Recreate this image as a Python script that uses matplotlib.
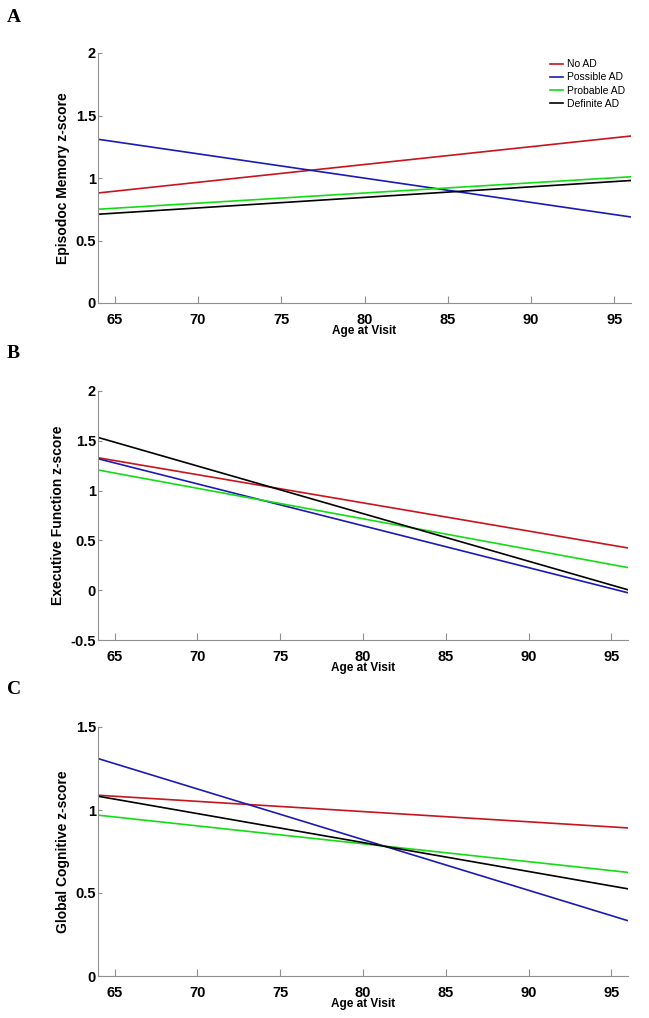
import matplotlib
matplotlib.use("Agg")
import matplotlib.pyplot as plt

# fitted lines, values at the two ends of the age range
ages = [64, 96]
groups = ["No AD", "Possible AD", "Probable AD", "Definite AD"]
colors = ["#c8141e", "#1a1ab4", "#14dc14", "#000000"]

episodic = [[0.88, 1.336], [1.31, 0.688], [0.75, 1.01], [0.71, 0.98]]
executive = [[1.33, 0.424], [1.32, -0.026], [1.207, 0.227], [1.534, 0.004]]
global_cog = [[1.089, 0.892], [1.31, 0.333], [0.969, 0.624], [1.083, 0.525]]

panel_letters = ["A", "B", "C"]
ylabels = ["Episodoc Memory z-score", "Executive Function z-score", "Global Cognitive z-score"]
ylims = [(0, 2), (-0.5, 2), (0, 1.5)]
yticks = [[0, 0.5, 1, 1.5, 2], [-0.5, 0, 0.5, 1, 1.5, 2], [0, 0.5, 1, 1.5]]
ytick_labels = [["0", "0.5", "1", "1.5", "2"], ["-0.5", "0", "0.5", "1", "1.5", "2"], ["0", "0.5", "1", "1.5"]]
xticks = [65, 70, 75, 80, 85, 90, 95]

plt.rcParams["font.family"] = ["Liberation Sans", "DejaVu Sans"]

fig = plt.figure(figsize=(6.49, 10.18), dpi=100)
W, H = 649, 1018
# axes boxes in pixels: left, top, right, bottom
boxes = [(98, 53, 631, 303), (98, 391, 628, 640), (98, 727, 628, 976)]
letter_y = [17, 354, 690]

datasets = [episodic, executive, global_cog]
for i, data in enumerate(datasets):
    l, t, r, b = boxes[i]
    ax = fig.add_axes([l / W, 1 - b / H, (r - l) / W, (b - t) / H])
    for j, vals in enumerate(data):
        ax.plot(ages, vals, color=colors[j], lw=1.2, label=groups[j])
    ax.set_xlim(64, 96)
    ax.set_ylim(*ylims[i])
    ax.set_xticks(xticks)
    ax.set_xticklabels([str(x) for x in xticks], fontweight="bold", fontsize=10.5)
    ax.set_yticks(yticks[i])
    ax.set_yticklabels(ytick_labels[i], fontweight="bold", fontsize=10.5)
    for s in ["top", "right"]:
        ax.spines[s].set_visible(False)
    for s in ["left", "bottom"]:
        ax.spines[s].set_color("#909090")
    ax.tick_params(axis="x", direction="in", length=5, color="#909090", pad=7)
    ax.tick_params(axis="y", direction="in", length=3, color="#909090", pad=1.5)
    ax.set_ylabel(ylabels[i], fontweight="bold", fontsize=10, labelpad=4)
    ax.set_xlabel("Age at Visit", fontweight="bold", fontsize=8.5)
    ax.xaxis.set_label_coords(0.5, -22 / (b - t))
    fig.text(7 / W, 1 - letter_y[i] / H, panel_letters[i], family="Liberation Serif",
             fontweight="bold", fontsize=14, va="center", ha="left")
    if i == 0:
        ax.legend(loc="upper right", bbox_to_anchor=(1.0, 1.0), frameon=False,
                  fontsize=7.5, handlelength=1.3, handletextpad=0.3, labelspacing=0.3,
                  borderaxespad=0.2)

fig.savefig("out.png", dpi=100)
